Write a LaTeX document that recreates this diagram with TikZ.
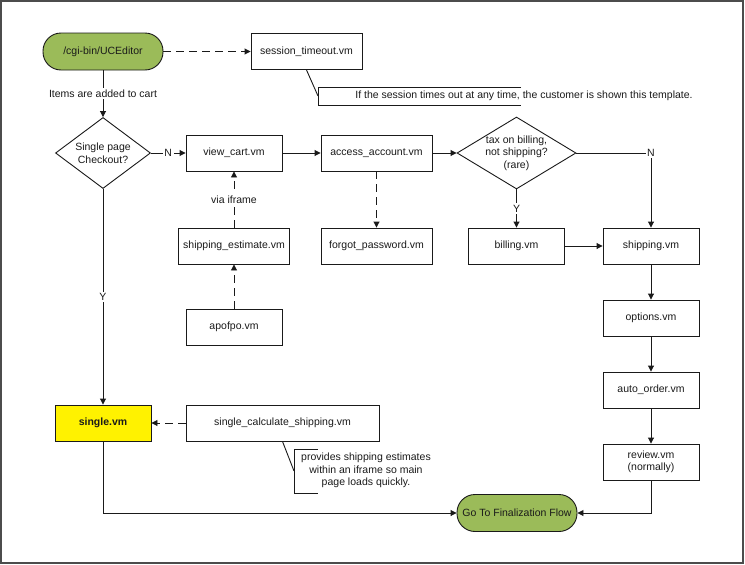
\documentclass[tikz,border=0pt]{standalone}
\usepackage{fontspec}
\setmainfont{Liberation Sans}
\usetikzlibrary{shapes.geometric,arrows.meta}
\definecolor{pill}{HTML}{9BBB59}
\definecolor{ink}{HTML}{1A1A1A}
\begin{document}
\begin{tikzpicture}[x=1pt,y=-1pt,
  font=\fontsize{10.5}{12.5}\selectfont,
  every node/.style={text=ink},
  box/.style={draw=ink, line width=0.9pt, fill=white, minimum width=96pt, minimum height=36pt, inner sep=2pt, align=center},
  wbox/.style={box, minimum width=111pt},
  term/.style={draw=ink, line width=0.9pt, fill=pill, rounded corners=18pt, minimum width=120pt, minimum height=37pt, inner sep=2pt},
  dec/.style={draw=ink, line width=0.9pt, diamond, fill=white, inner sep=0pt},
  flow/.style={draw=ink, line width=0.9pt, -{Triangle[length=6pt,width=6pt]}},
  dflow/.style={flow, dash pattern=on 8pt off 5pt},
  lbl/.style={fill=white, inner sep=1.5pt},
  note/.style={draw=ink, line width=0.9pt},
]
\useasboundingbox (0,0) rectangle (745,565);
\draw[line width=1.5pt, draw=black!70] (1,1) rectangle (743,563);

% nodes
\node[term] (start) at (103,51.5) {/cgi-bin/UCEditor};
\node[wbox] (sess) at (306.5,51.5) {session\_timeout.vm};
\node[inner sep=0pt] (note1) at (524,96) {If the session times out at any time, the customer is shown this template.};
\coordinate (n1a) at (318,96);
\draw[note] (521,87) -- (318,87) -- (318,105) -- (521,105);

\node[dec, minimum width=95pt, minimum height=71pt] (d1) at (103,153) {};
\node[align=center] (d1t) at (d1) {Single page\\Checkout?};
\node[box] (cart) at (234,153) {view\_cart.vm};
\node[wbox] (acc) at (376.5,153) {access\_account.vm};
\node[dec, minimum width=119pt, minimum height=72pt] (d2) at (516.5,153) {};
\node[align=center] (d2t) at (d2) {tax on billing,\\not shipping?\\(rare)};

\node[wbox] (est) at (234,246) {shipping\_estimate.vm};
\node[box] (apo) at (234,327) {apofpo.vm};
\node[wbox] (forgot) at (376.5,246) {forgot\_password.vm};
\node[box] (bill) at (516.5,246) {billing.vm};
\node[box] (ship) at (651,246) {shipping.vm};
\node[box] (opt) at (651,318) {options.vm};
\node[box] (auto) at (651,390) {auto\_order.vm};
\node[box] (rev) at (651,462) {review.vm\\(normally)};
\node[term] (fin) at (517,513) {Go To Finalization Flow};

\node[box, fill=yellow, font=\fontsize{10.5}{12.5}\selectfont\bfseries] (single) at (103,423) {single.vm};
\node[box, minimum width=193pt] (calc) at (282.5,423) {single\_calculate\_shipping.vm};
\node[align=center] (note2) at (366,470.5) {provides shipping estimates\\within an iframe so main\\page loads quickly.};
\coordinate (n2a) at (294,471);
\draw[note] (318,449) -- (294,449) -- (294,493) -- (318,493);

% connectors
\draw[note] (sess.south) -- (n1a);
\draw[note] (calc.south) -- (n2a);
\draw[dflow] (start) -- (start -| sess.west);
\draw[flow] (start) -- node[lbl]{Items are added to cart} (d1);
\draw[flow] (d1) -- node[lbl]{N} (cart);
\draw[flow] (cart) -- (acc);
\draw[flow] (acc) -- (d2);
\draw[flow] (d2.east) -| node[lbl, pos=0.5]{N} (ship.north);
\draw[flow] (d2) -- node[lbl]{Y} (bill);
\draw[flow] (bill) -- (ship);
\draw[flow] (ship) -- (opt);
\draw[flow] (opt) -- (auto);
\draw[flow] (auto) -- (rev);
\draw[flow] (rev.south) |- (fin.east);
\draw[flow] (d1) -- node[lbl]{Y} (single);
\draw[flow] (single.south) |- (fin.west);
\draw[dflow] (est) -- node[lbl]{via iframe} (cart);
\draw[dflow] (apo) -- (est);
\draw[dflow] (acc) -- (forgot);
\draw[dflow] (calc) -- (single);
\end{tikzpicture}
\end{document}
